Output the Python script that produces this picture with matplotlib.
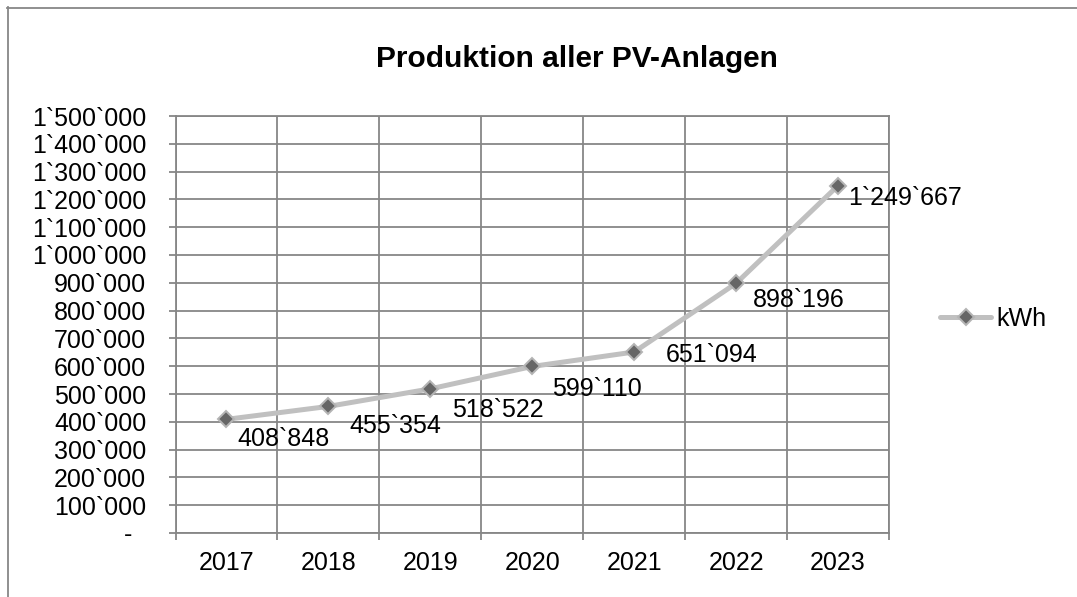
import matplotlib
matplotlib.use("Agg")
import matplotlib.pyplot as plt
from matplotlib.lines import Line2D
from matplotlib.ticker import FixedLocator, FuncFormatter

plt.rcParams['font.family'] = ['Liberation Sans', 'DejaVu Sans']

years = ["2017", "2018", "2019", "2020", "2021", "2022", "2023"]
kwh = [408848, 455354, 518522, 599110, 651094, 898196, 1249667]
series_name = "kWh"
title = "Produktion aller PV-Anlagen"

# label offsets in pixels (dx right, dy down to baseline) - styling only
label_dx = [11, 21, 22, 20, 32, 17, 10]
label_dy = [27, 27, 28, 30, 10, 24, 19]

W, H, DPI = 1077, 597, 100
fig = plt.figure(figsize=(W / DPI, H / DPI), dpi=DPI)
px = 72.0 / DPI  # points per pixel
FS = 18

grey = "#868686"
ax = fig.add_axes([175.5 / W, 1 - 533 / H, (889 - 175.5) / W, (533 - 116) / H])

x = list(range(len(years)))
ax.plot(x, kwh, color="#c0c0c0", lw=5 * px, marker="D", markersize=11.5 * px,
        markerfacecolor="#666666", markeredgecolor="#b4b4b4", markeredgewidth=2 * px,
        solid_capstyle="round", label=series_name, zorder=3)

for i, v in enumerate(kwh):
    ax.annotate(f"{v:,}".replace(",", "`"), (x[i], v),
                xytext=(label_dx[i] * px, -label_dy[i] * px), textcoords="offset points",
                ha="left", va="baseline", fontsize=FS, color="black", zorder=4)

ax.set_xlim(-0.5, len(years) - 0.5)
ax.set_ylim(0, 1500000)

ax.yaxis.set_major_locator(FixedLocator(range(0, 1500001, 100000)))
ax.yaxis.set_major_formatter(FuncFormatter(
    lambda v, p: "-  " if v == 0 else f"{int(v):,}".replace(",", "`")))
ax.xaxis.set_major_locator(FixedLocator([i - 0.5 for i in range(len(years) + 1)]))
ax.xaxis.set_minor_locator(FixedLocator(x))
ax.xaxis.set_major_formatter(FuncFormatter(lambda v, p: ""))
ax.xaxis.set_minor_formatter(FuncFormatter(lambda v, p: years[int(round(v))]))

ax.tick_params(axis="y", which="major", direction="out", length=7 * px, width=1.8 * px,
               color=grey, labelsize=FS, pad=16)
ax.tick_params(axis="x", which="major", direction="out", length=7 * px, width=1.8 * px,
               color=grey)
ax.tick_params(axis="x", which="minor", length=0, labelsize=FS, pad=13)

ax.grid(True, which="major", color=grey, lw=1.8 * px)
ax.set_axisbelow(True)
for s in ax.spines.values():
    s.set_color(grey)
    s.set_linewidth(1.8 * px)

fig.text(576.5 / W, 1 - 67 / H, title, ha="center", va="baseline",
         fontsize=21.5, fontweight="bold")

leg = fig.legend(handles=ax.get_lines()[:1], loc="center left",
                 bbox_to_anchor=(940 / W, 1 - 319 / H), frameon=False,
                 fontsize=FS, handlelength=2.05, handletextpad=0.2,
                 borderpad=0, borderaxespad=0)

# outer chart-area border (top and left visible)
fig.add_artist(Line2D([7.5 / W, 7.5 / W], [1 - 7 / H, 0], color=grey, lw=1.8 * px))
fig.add_artist(Line2D([7 / W, 1], [1 - 7.5 / H, 1 - 7.5 / H], color=grey, lw=1.8 * px))

fig.savefig("out.png", dpi=DPI)
